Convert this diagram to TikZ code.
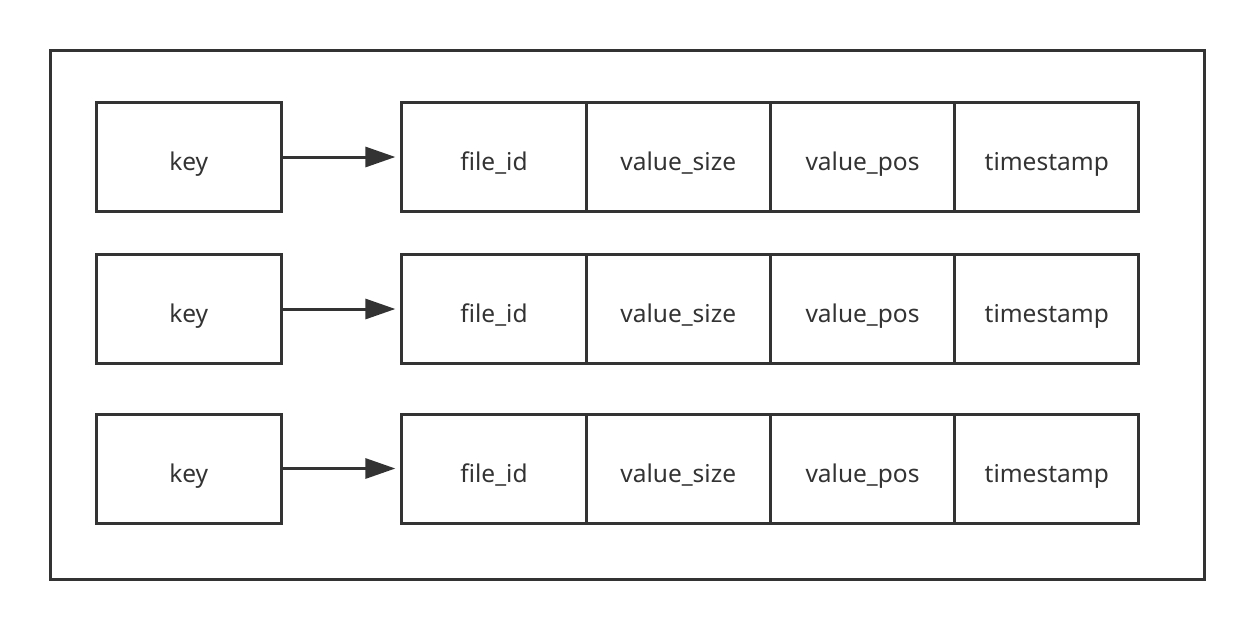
\documentclass[tikz,border=0pt]{standalone}
\usepackage{fontspec}
\setmainfont{Noto Sans}
\usetikzlibrary{arrows.meta}
\definecolor{ink}{HTML}{333333}
\begin{document}
\begin{tikzpicture}[x=1pt,y=-1pt,
  box/.style={draw=ink,line width=3pt,minimum width=185pt,minimum height=109pt,inner sep=0pt,text=ink,text height=27pt,text depth=0pt,font=\fontsize{24.5}{29}\selectfont},
  cell/.style={box,minimum width=184.25pt},
  conn/.style={draw=ink,line width=3pt,-{Triangle[length=30pt,width=20pt]},shorten >=5pt}]
\useasboundingbox (0,0) rectangle (1254,630);
\node[draw=ink,line width=3pt,minimum width=1153.5pt,minimum height=529pt,inner sep=0pt] (outer) at (627.25,314.5) {};
\foreach \r/\y in {1/157,2/309,3/468.5}{
  \node[box] (k\r) at (188.75,\y) {key};
  \node[cell] (f\r) at (494,\y) {file\_id};
  \node[cell] (s\r) at (678.25,\y) {value\_size};
  \node[cell] (p\r) at (862.5,\y) {value\_pos};
  \node[cell] (t\r) at (1046.75,\y) {timestamp};
  \draw[conn] (k\r.east) -- (f\r.west);
}
\end{tikzpicture}
\end{document}
